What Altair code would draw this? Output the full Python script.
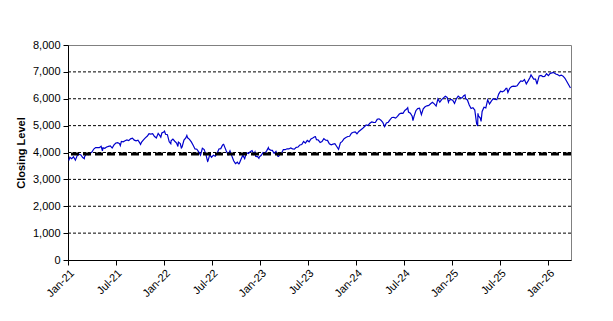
import altair as alt
import pandas as pd

# Weekly (Friday) closing levels, one list per year, first Friday given
weeks_2021_start = "2021-01-08"
closes_2021 = [3825, 3768, 3841, 3714, 3887, 3934, 3907, 3811, 3842, 3943,
               3913, 3975, 4020, 4129, 4185, 4180, 4181, 4233, 4174, 4156,
               4204, 4230, 4247, 4166, 4281, 4352, 4370, 4327, 4412, 4395,
               4437, 4468, 4442, 4509, 4535, 4459, 4433, 4455, 4357, 4391,
               4471, 4545, 4605, 4697, 4683, 4698, 4595, 4538, 4712, 4620,
               4726, 4766]
weeks_2022_start = "2022-01-07"
closes_2022 = [4677, 4663, 4398, 4432, 4500, 4419, 4349, 4385, 4329, 4204,
               4463, 4543, 4546, 4488, 4393, 4272, 4132, 4123, 4024, 3901,
               4158, 4109, 3901, 3675, 3912, 3825, 3899, 3863, 3962, 4130,
               4145, 4280, 4228, 4058, 3924, 4067, 3873, 3693, 3586, 3640,
               3583, 3752, 3901, 3771, 3993, 3965, 4026, 4072, 3934, 3852,
               3845, 3840]
weeks_2023_start = "2023-01-06"
closes_2023 = [3895, 3999, 3973, 4071, 4136, 4090, 4079, 3970, 4046, 3862,
               3917, 3971, 4109, 4105, 4138, 4133, 4169, 4136, 4124, 4192,
               4205, 4282, 4299, 4410, 4348, 4450, 4399, 4505, 4536, 4582,
               4478, 4464, 4370, 4406, 4516, 4457, 4450, 4320, 4288, 4309,
               4327, 4224, 4117, 4358, 4415, 4514, 4559, 4595, 4604, 4719,
               4755, 4770]
weeks_2024_start = "2024-01-05"
closes_2024 = [4697, 4784, 4840, 4891, 4959, 5027, 5006, 5089, 5137, 5124,
               5117, 5234, 5254, 5204, 5123, 4967, 5100, 5128, 5223, 5303,
               5305, 5278, 5347, 5432, 5465, 5460, 5567, 5615, 5505, 5459,
               5347, 5344, 5554, 5635, 5648, 5408, 5626, 5703, 5738, 5751,
               5815, 5865, 5808, 5729, 5996, 5871, 5969, 6032, 6090, 6051,
               5931, 5971]
weeks_2025_start = "2025-01-03"
closes_2025 = [5942, 5827, 5997, 6101, 6041, 6026, 6115, 6013, 5955, 5770,
               5639, 5668, 5581, 5074, 5363, 5283, 5525, 5687, 5660, 5958,
               5803, 5912, 6000, 5977, 5968, 6173, 6279, 6260, 6297, 6389,
               6238, 6389, 6450, 6467, 6460, 6482, 6584, 6664, 6644, 6716,
               6553, 6664, 6792, 6840, 6729, 6734, 6603, 6849, 6870, 6827,
               6834, 6930]
weeks_2026_start = "2026-01-02"
closes_2026 = [6858, 6944, 6960, 6970, 6920, 6900, 6850, 6880, 6840, 6760,
               6640, 6520, 6400]

# Extra daily closes (intra-week highs / lows)
extra_dates = ["2021-01-04", "2021-03-04", "2021-05-12", "2021-07-19", "2021-10-04",
               "2021-11-30", "2021-12-20", "2022-01-03", "2022-01-27", "2022-02-23",
               "2022-03-08", "2022-03-29", "2022-06-16", "2022-08-16", "2022-10-12",
               "2022-12-13", "2022-12-28", "2023-02-02", "2023-03-13", "2023-07-31",
               "2024-07-16", "2024-08-05", "2024-12-18", "2025-02-19", "2025-04-08",
               "2025-04-09", "2025-04-21", "2025-07-28", "2025-10-28", "2025-11-20",
               "2026-01-20"]
extra_closes = [3701, 3768, 4063, 4258, 4300,
                4567, 4568, 4797, 4326, 4225,
                4170, 4632, 3667, 4305, 3577,
                4019, 3783, 4180, 3855, 4589,
                5667, 5186, 5872, 6144, 4982,
                5457, 5158, 6390, 6891, 6539,
                6980]

grid_levels = [1000, 2000, 3000, 4000, 5000, 6000, 7000]
y_ticks = [0, 1000, 2000, 3000, 4000, 5000, 6000, 7000, 8000]
reference_level = [3940]
x_tick_dates = [(2021, 1), (2021, 7), (2022, 1), (2022, 7), (2023, 1), (2023, 7),
                (2024, 1), (2024, 7), (2025, 1), (2025, 7), (2026, 1)]

parts = []
for start, vals in [(weeks_2021_start, closes_2021), (weeks_2022_start, closes_2022),
                    (weeks_2023_start, closes_2023), (weeks_2024_start, closes_2024),
                    (weeks_2025_start, closes_2025), (weeks_2026_start, closes_2026)]:
    d = pd.date_range(start, periods=len(vals), freq="7D")
    parts.append(pd.DataFrame({"date": d, "close": vals}))
parts.append(pd.DataFrame({"date": pd.to_datetime(extra_dates), "close": extra_closes}))
df = pd.concat(parts).sort_values("date").reset_index(drop=True)
df["date"] = df["date"].dt.strftime("%Y-%m-%d")

x_scale = alt.Scale(type="utc",
                    domain=[alt.DateTime(year=2021, month=1, date=1, utc=True),
                            alt.DateTime(year=2026, month=3, date=29, utc=True)])
y_scale = alt.Scale(domain=[0, 8000], nice=False)

y_axis = alt.Axis(values=y_ticks, format=",d", title="Closing Level",
                  titleFontWeight="bold", titleFontSize=11,
                  titlePadding=6, tickSize=5, labelPadding=3, grid=False)

line = alt.Chart(df).mark_line(color="#0000CC", strokeWidth=1.2).encode(
    x=alt.X("date:T", scale=x_scale,
            axis=alt.Axis(values=[alt.DateTime(year=y, month=m, date=1, utc=True)
                                  for y, m in x_tick_dates],
                          labelExpr="utcFormat(datum.value, '%b-%y')", title=None,
                          labelAngle=-45, labelAlign="right", labelBaseline="top",
                          labelPadding=2, tickSize=5, grid=False,
                          labelOverlap=False, labelFlush=False)),
    y=alt.Y("close:Q", scale=y_scale, axis=y_axis, title="Closing Level"),
)

grid = alt.Chart(pd.DataFrame({"v": grid_levels})).mark_rule(
    color="black", strokeDash=[3, 2], strokeWidth=1
).encode(y=alt.Y("v:Q", scale=y_scale, axis=y_axis, title="Closing Level"))

ref = alt.Chart(pd.DataFrame({"v": reference_level})).mark_rule(
    color="black", strokeDash=[8, 4], strokeWidth=3
).encode(y=alt.Y("v:Q", scale=y_scale, axis=y_axis, title="Closing Level"))

chart = alt.layer(grid, line, ref).properties(
    width=503, height=215,
    autosize="none",
    padding={"left": 68, "top": 45, "right": 42, "bottom": 61},
    background="white",
).configure_view(
    stroke="#808080", strokeWidth=1
).configure_axis(
    labelFont="Liberation Sans", titleFont="Liberation Sans",
    labelFontSize=11, labelColor="black", titleColor="black",
    domainColor="black", tickColor="black", domainWidth=1, tickWidth=1,
)

chart.save("out.html", embed_options={"renderer": "svg", "actions": False})
